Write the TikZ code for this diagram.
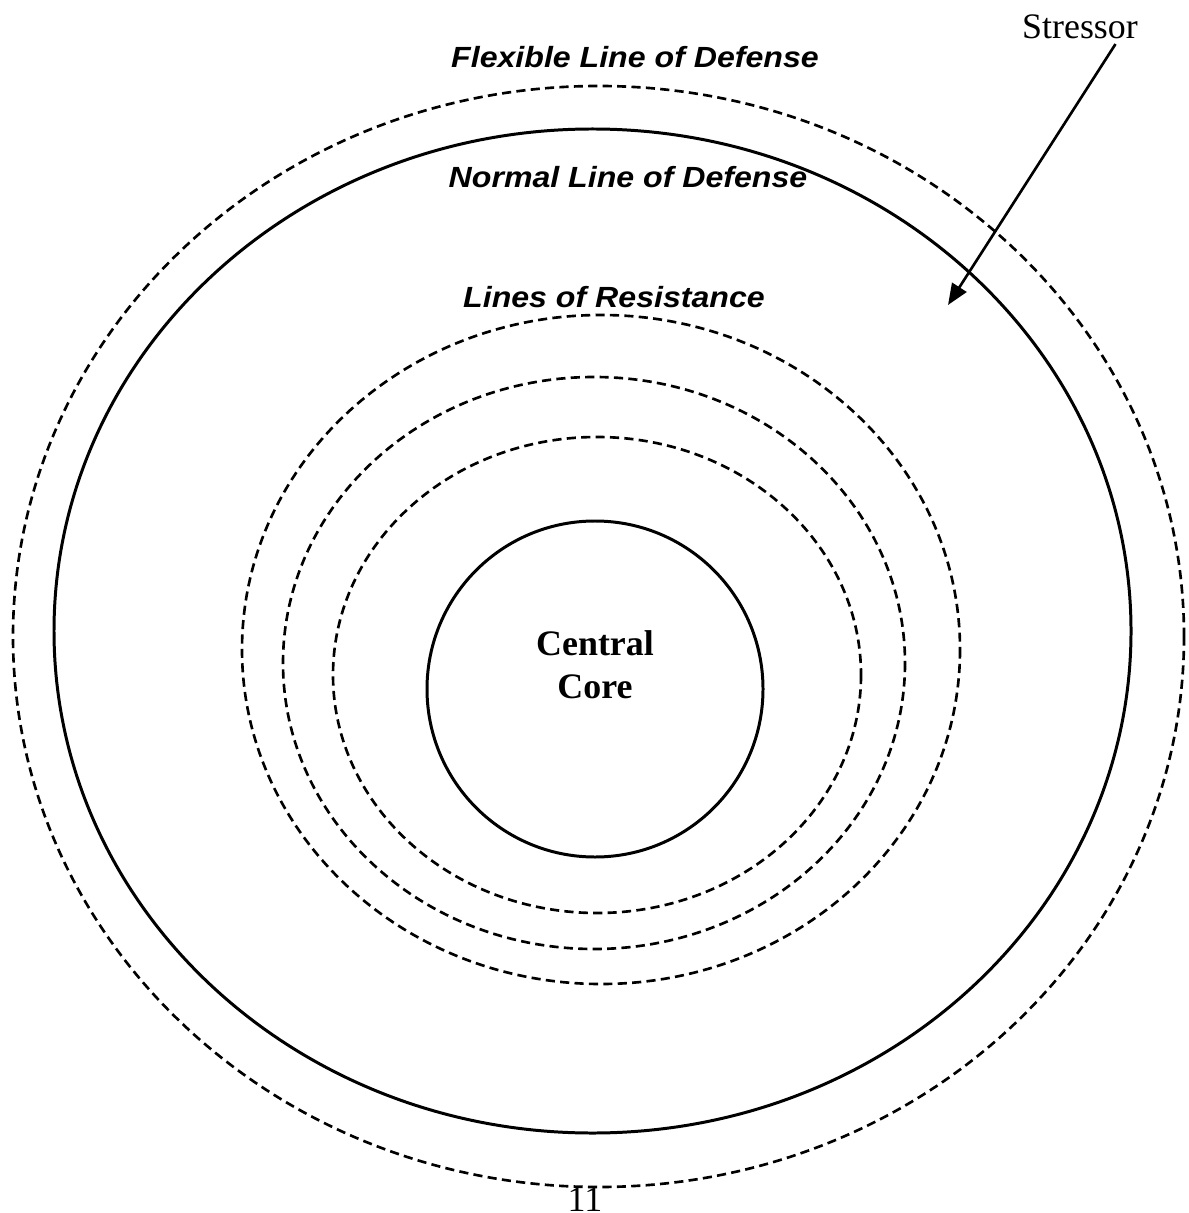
\documentclass[tikz,border=0pt]{standalone}
\usepackage{fontspec}
\setmainfont{Liberation Serif}
\newfontfamily\labelfont[FakeStretch=1.1]{Liberation Sans}
\usetikzlibrary{arrows.meta,positioning}

\begin{document}
\begin{tikzpicture}[x=0.01cm, y=-0.01cm,
    ring/.style={
      line width=0.75pt,
      dash pattern=on 2.6pt off 1.5pt
    },
    wall/.style={
      line width=0.85pt
    },
    ringlabel/.style={
      font=\labelfont\bfseries\itshape\fontsize{8.3}{10}\selectfont,
      inner sep=0,
      anchor=base
    },
    txt/.style={
      font=\fontsize{10.2}{12.3}\selectfont,
      inner sep=0,
      anchor=base
    },
    stress/.style={
      -{Triangle[length=6pt,width=4.8pt]},
      line width=0.75pt
    }
]
\useasboundingbox (0,0) rectangle (1188,1213);

%% Rings
\draw[ring] (598.5,636.5) ellipse [x radius=585.5, y radius=550.5];
\draw[wall] (592.5,631) ellipse [x radius=538.5, y radius=502];
\draw[ring] (601,649.5) ellipse [x radius=359, y radius=334.5];
\draw[ring] (594,663) ellipse [x radius=311, y radius=286];
\draw[ring] (597,675) ellipse [x radius=264, y radius=238];
\draw[wall] (595,689) circle [radius=168];

%% Labels
\node [ringlabel] (flexible) at (635,68) {Flexible Line of Defense};
\node [ringlabel] (normal) at (628,188) {Normal Line of Defense};
\node [ringlabel] (resistance) at (614,308) {Lines of Resistance};

\node [txt] (central) at (595,655) {\bfseries Central};
\node [txt] (core) at (595,698) {\bfseries Core};

\node [txt] (stressor) at (1080,39) {Stressor};
\node [txt] (page) at (585,1211) {11};

%%% Arrow
\coordinate (impact) at (948,305);
\draw [stress] ([shift={(-23,4)}]stressor.south east) -- (impact);

\end{tikzpicture}
\end{document}
